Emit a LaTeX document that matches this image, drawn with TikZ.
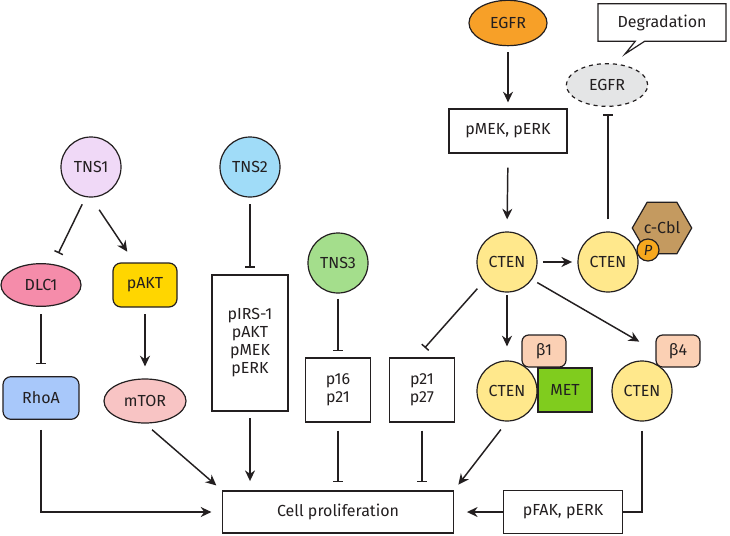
\documentclass[tikz,border=0pt]{standalone}
\usepackage{fontspec}
\setmainfont{Fira Sans}
\usetikzlibrary{arrows.meta,shapes.geometric,shapes.callouts}
\definecolor{ink}{HTML}{231F20}
\definecolor{tnsonecol}{HTML}{F0D9F7}
\definecolor{tnstwocol}{HTML}{A0DCF8}
\definecolor{tnsthreecol}{HTML}{A4DE8C}
\definecolor{dlccol}{HTML}{F58CAA}
\definecolor{paktcol}{HTML}{FFD600}
\definecolor{rhoacol}{HTML}{A8C8FA}
\definecolor{mtorcol}{HTML}{F8C4C4}
\definecolor{ctencol}{HTML}{FFE88C}
\definecolor{egfrcol}{HTML}{F7A028}
\definecolor{greycol}{HTML}{E4E5E6}
\definecolor{cblcol}{HTML}{C49A60}
\definecolor{phoscol}{HTML}{F7A81E}
\definecolor{betacol}{HTML}{FBD0B4}
\definecolor{metcol}{HTML}{80CC1E}
\begin{document}
\begin{tikzpicture}[x=0.75pt,y=-0.75pt,
    every node/.style={font=\fontsize{12}{13.5}\selectfont,text=ink,inner sep=0pt},
    ball/.style={circle,draw=ink,line width=0.9pt,minimum size=45pt},
    oval/.style={ellipse,draw=ink,line width=0.9pt},
    pill/.style={rectangle,rounded corners=6pt,draw=ink,line width=0.9pt},
    plainbox/.style={rectangle,draw=ink,line width=0.9pt,fill=white,align=center},
    act/.style={draw=ink,line width=1.1pt,-{Stealth[length=8pt,width=7.5pt]}},
    inh/.style={draw=ink,line width=1.1pt,-{Bar[width=7pt]}}]
    \useasboundingbox (0,0) rectangle (730,535);
    \node[ball,fill=tnsonecol] (tnsA) at (91,167) {TNS1};
    \node[ball,fill=tnstwocol] (tnsB) at (250,167) {TNS2};
    \node[ball,fill=tnsthreecol] (tnsC) at (338,263) {TNS3};
    \node[oval,fill=dlccol,minimum width=60pt,minimum height=32pt] (dlc) at (41,285) {DLC1};
    \node[pill,fill=paktcol,minimum width=48pt,minimum height=33pt] (pakt) at (145,285) {pAKT};
    \node[pill,fill=rhoacol,minimum width=57pt,minimum height=32pt] (rhoa) at (41,398) {RhoA};
    \node[oval,fill=mtorcol,minimum width=61.5pt,minimum height=33pt] (mtor) at (145,401) {mTOR};
    \node[plainbox,minimum width=57pt,minimum height=102pt] (pirs) at (250,343) {pIRS-1\\pAKT\\pMEK\\pERK};
    \node[plainbox,minimum width=49pt,minimum height=48pt] (pA) at (338,390) {p16\\p21};
    \node[plainbox,minimum width=49pt,minimum height=48pt] (pB) at (422,390) {p21\\p27};
    \node[plainbox,minimum width=173pt,minimum height=31.5pt] (cell) at (338,512) {Cell proliferation};
    \node[plainbox,minimum width=89pt,minimum height=32pt] (pfak) at (563,512) {pFAK, pERK};
    \node[oval,fill=egfrcol,minimum width=58.5pt,minimum height=34pt] (egfr) at (508,23) {EGFR};
    \node[plainbox,minimum width=88.5pt,minimum height=33pt] (pmek) at (508,131) {pMEK, pERK};
    \node[oval,fill=greycol,dashed,minimum width=61pt,minimum height=32pt] (egfrD) at (607,85) {EGFR};
    \node[rectangle callout,draw=ink,line width=0.9pt,fill=white,minimum width=96pt,minimum height=28pt,
        callout absolute pointer={(625,54)}] (degr) at (662,22.5) {Degradation};
    \node[regular polygon,regular polygon sides=6,draw=ink,line width=0.9pt,fill=cblcol,minimum size=44pt] (ccbl) at (662,228) {\raisebox{-3pt}{c-Cbl}};
    \node[pill,rounded corners=5pt,fill=betacol,minimum width=33pt,minimum height=24pt] (beta1) at (544,351) {β1};
    \node[pill,rounded corners=5pt,fill=betacol,minimum width=33pt,minimum height=24pt] (beta4) at (678,351) {β4};
    \node[ball,fill=ctencol] (cten) at (507,262) {CTEN};
    \node[ball,fill=ctencol] (ctenB) at (608,262) {CTEN};
    \node[ball,fill=ctencol] (ctenC) at (507,391) {CTEN};
    \node[ball,fill=ctencol] (ctenD) at (642,391) {CTEN};
    \node[rectangle,draw=ink,line width=0.9pt,fill=metcol,minimum width=40.5pt,minimum height=33pt] (met) at (565,390) {MET};
    \node[circle,draw=ink,line width=0.9pt,fill=phoscol,minimum size=16.5pt,font=\fontsize{11}{13}\selectfont\itshape] (phos) at (648,250) {P};
    \draw[inh,shorten <=6pt,shorten >=9pt] (tnsA.-100) -- (dlc.60);
    \draw[act,shorten <=11pt,shorten >=9.7pt] (tnsA.south) -- (pakt.115);
    \draw[inh,shorten <=5pt,shorten >=5pt] (tnsB.south) -- (pirs.north);
    \draw[inh,shorten <=4pt,shorten >=4.5pt] (tnsC.south) -- (pA.north);
    \draw[inh,shorten <=5.5pt,shorten >=9pt] (dlc.south) -- (rhoa.north);
    \draw[act,shorten <=5pt,shorten >=9pt] (pakt.south) -- (mtor.north);
    \draw[act,shorten <=7.5pt,shorten >=8pt] (rhoa.south) |- (cell.west);
    \draw[act,shorten <=7pt,shorten >=5.7pt] (mtor.south) -- (cell.north west);
    \draw[act,shorten <=5pt,shorten >=7pt] (pirs.south) -- (pirs.south |- cell.north);
    \draw[inh,shorten <=6pt,shorten >=6pt] (pA.south) -- (pA.south |- cell.north);
    \draw[inh,shorten <=6pt,shorten >=6pt] (pB.south) -- (pB.south |- cell.north);
    \draw[act,shorten <=7.5pt,shorten >=5.4pt] (ctenC.south) -- (cell.north east);
    \draw[draw=ink,line width=1.1pt,shorten <=7pt] (ctenD.south) |- (pfak.east);
    \draw[act,shorten >=9.75pt] (pfak.west) -- (cell.east);
    \draw[act,shorten <=4.5pt,shorten >=4.5pt] (egfr.south) -- (pmek.north);
    \draw[act,shorten <=10.5pt,shorten >=9pt] (pmek.south) -- (cten.north);
    \draw[act,shorten <=4pt,shorten >=4pt] (cten.east) -- (ctenB.west);
    \draw[inh,shorten <=9pt,shorten >=5.6pt] (ctenB.north) -- (ctenB.north |- egfrD.south);
    \draw[act,shorten <=2pt,shorten >=10.5pt] (cten.south) -- (ctenC.north);
    \draw[act,shorten <=4.5pt,shorten >=14pt] (cten.-35) -- (beta4.west);
    \draw[inh,shorten <=7pt,shorten >=9.6pt] (cten.-140) -- (pB.100);
\end{tikzpicture}
\end{document}
